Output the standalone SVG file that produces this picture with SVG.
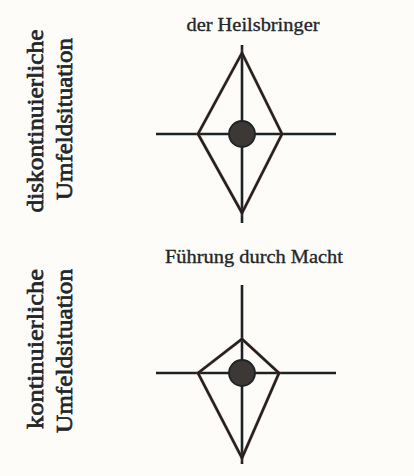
<svg xmlns="http://www.w3.org/2000/svg" width="414" height="476" viewBox="0 0 414 476">
<defs>
<style>
.bg{fill:#fdfcf8}
.t{font-family:"Liberation Serif","Times New Roman",serif;fill:#1f272a;stroke:#1f272a}
.title{font-size:19px;stroke-width:0.35}
.lab{font-size:24px;stroke-width:0.7}
.ax{stroke:#1d2226;stroke-width:2.6;fill:none}
.halo{stroke:#d9533a;stroke-width:3.6;fill:none;stroke-linejoin:miter;opacity:0.35}
.sh{stroke:#1d2226;stroke-width:2.6;fill:none;stroke-linejoin:miter}
.dot{fill:#3d3836;stroke:#1d2428;stroke-width:1.8}
</style>
</defs>
<rect class="bg" x="0" y="0" width="414" height="476"/>
<g id="labels">
<text class="t lab" transform="translate(43,121) rotate(-90)" text-anchor="middle" textLength="183" lengthAdjust="spacingAndGlyphs">diskontinuierliche</text>
<text class="t lab" transform="translate(72,119) rotate(-90)" text-anchor="middle" textLength="162" lengthAdjust="spacingAndGlyphs">Umfeldsituation</text>
<text class="t lab" transform="translate(43,349) rotate(-90)" text-anchor="middle" textLength="160" lengthAdjust="spacingAndGlyphs">kontinuierliche</text>
<text class="t lab" transform="translate(72,351) rotate(-90)" text-anchor="middle" textLength="164" lengthAdjust="spacingAndGlyphs">Umfeldsituation</text>
</g>
<g id="node-heilsbringer">
<text class="t title" x="253" y="31" text-anchor="middle" textLength="133" lengthAdjust="spacingAndGlyphs">der Heilsbringer</text>
<line class="ax" x1="156" y1="134" x2="336" y2="134"/>
<line class="ax" x1="242" y1="45" x2="242" y2="223"/>
<polygon class="halo" points="242,53 282,134 242,213 198,134"/>
<polygon class="sh" points="242,53 282,134 242,213 198,134"/>
<circle class="dot" cx="242" cy="134" r="13"/>
</g>
<g id="node-macht">
<text class="t title" x="254" y="263" text-anchor="middle" textLength="178" lengthAdjust="spacingAndGlyphs" stroke-width="0.8">Führung durch Macht</text>
<line class="ax" x1="156" y1="373" x2="336" y2="373"/>
<line class="ax" x1="242" y1="285" x2="242" y2="464"/>
<polygon class="halo" points="242,339 279,373 242,458 198,373"/>
<polygon class="sh" points="242,339 279,373 242,458 198,373"/>
<circle class="dot" cx="242" cy="373" r="13"/>
</g>
</svg>
